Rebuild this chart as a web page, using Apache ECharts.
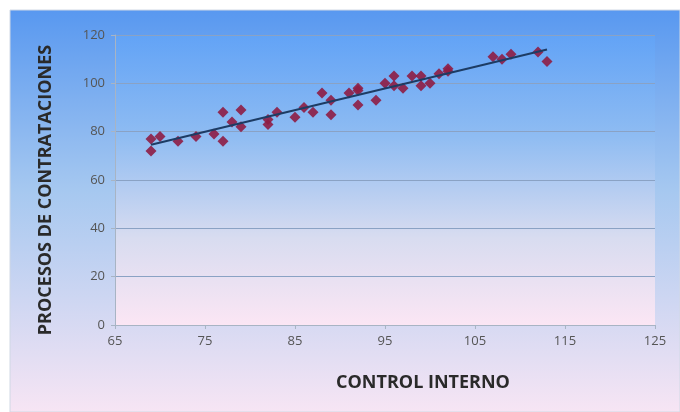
<!DOCTYPE html>
<html><head><meta charset="utf-8">
<script src="https://cdn.jsdelivr.net/npm/echarts@6/dist/echarts.min.js"></script>
<style>html,body{margin:0;padding:0;background:#fff}#c{width:680px;height:412px}</style>
</head><body><div id="c"></div>
<script>
const xValues = [69,69,70,72,74,76,77,77,78,79,79,82,82,83,85,86,87,88,89,89,91,92,92,92,94,95,96,96,97,98,99,99,100,101,102,102,107,108,109,112,113];
const yValues = [77,72,78,76,78,79,88,76,84,89,82,85,83,88,86,90,88,96,93,87,96,98,97,91,93,100,103,99,98,103,103,99,100,104,105,106,111,110,112,113,109];
const xTicks = [65,75,85,95,105,115,125];
const yTicks = [0,20,40,60,80,100,120];
const xTitle = 'CONTROL INTERNO';
const yTitle = 'PROCESOS DE CONTRATACIONES';

const pts = xValues.map((x,i)=>[x,yValues[i]]);
const n = xValues.length;
const mx = xValues.reduce((a,b)=>a+b,0)/n, my = yValues.reduce((a,b)=>a+b,0)/n;
let sxy=0,sxx=0; for(let i=0;i<n;i++){sxy+=(xValues[i]-mx)*(yValues[i]-my);sxx+=(xValues[i]-mx)**2;}
const b = sxy/sxx, a = my-b*mx;
const xmin = Math.min(...xValues), xmax = Math.max(...xValues);
const trend = [[xmin,a+b*xmin],[xmax,a+b*xmax]];

const chart = echarts.init(document.getElementById('c'));
const font = "'Open Sans',sans-serif";
chart.setOption({
  animation:false,
  graphic:[
    {type:'rect',z:-10,shape:{x:10,y:10,width:670,height:402},
     style:{fill:new echarts.graphic.LinearGradient(0,0,0,1,[{offset:0,color:'#5898f0'},{offset:0.45,color:'#a6c8f0'},{offset:1,color:'#f7e5f4'}]),stroke:'#d0d8e4',lineWidth:1}},
    {type:'rect',z:-9,shape:{x:115,y:35,width:540,height:290},
     style:{fill:new echarts.graphic.LinearGradient(0,0,0,1,[{offset:0,color:'#62a3f6'},{offset:0.35,color:'#8fbcf2'},{offset:0.7,color:'#d8dcf0'},{offset:1,color:'#fbe6f4'}])}},
    {type:'text',x:423,y:383,style:{text:xTitle,font:"bold 18px "+font,fill:'#2a2a2a',align:'center',verticalAlign:'middle'}},
    {type:'text',x:46,y:190,rotation:Math.PI/2,style:{text:yTitle,font:"bold 18px "+font,fill:'#2a2a2a',align:'center',verticalAlign:'middle'}}
  ],
  grid:{left:115,top:35,width:540,height:290,containLabel:false},
  xAxis:{type:'value',min:65,max:125,interval:10,
    axisLine:{show:true,lineStyle:{color:'#a8b4c4'}},
    axisTick:{show:true,length:4,lineStyle:{color:'#a8b4c4'}},
    axisLabel:{color:'#555',fontSize:13,fontFamily:font,margin:10,formatter:v=>xTicks.includes(v)?v:''},
    splitLine:{show:false}},
  yAxis:{type:'value',min:0,max:120,interval:20,
    axisLine:{show:true,lineStyle:{color:'#a8b4c4'}},
    axisTick:{show:true,length:4,lineStyle:{color:'#a8b4c4'}},
    axisLabel:{color:'#555',fontSize:13,fontFamily:font,margin:10,formatter:v=>yTicks.includes(v)?v:''},
    splitLine:{show:true,lineStyle:{color:'#8aa2c4',width:1}}},
  series:[
    {type:'line',data:trend,symbol:'none',lineStyle:{color:'#1d3c64',width:2},z:3},
    {type:'scatter',data:pts,symbol:'diamond',symbolSize:11,itemStyle:{color:'#8e1d45',opacity:0.9},z:2}
  ]
});
</script></body></html>
